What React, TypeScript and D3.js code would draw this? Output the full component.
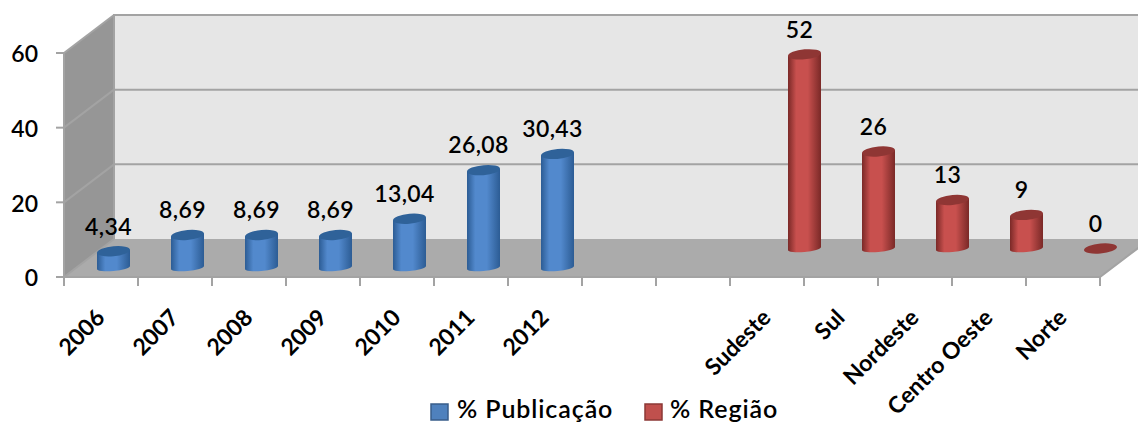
import React from 'react';
import * as d3 from 'd3';

const categories = ['2006', '2007', '2008', '2009', '2010', '2011', '2012', ' ', '  ', 'Sudeste', 'Sul', 'Nordeste', 'Centro Oeste', 'Norte'];
const publicacao = [4.34, 8.69, 8.69, 8.69, 13.04, 26.08, 30.43, null, null, null, null, null, null, null];
const regiao = [null, null, null, null, null, null, null, null, null, 52, 26, 13, 9, 0];
const publicacaoLabels = ['4,34', '8,69', '8,69', '8,69', '13,04', '26,08', '30,43'];
const yTicks = [0, 20, 40, 60];
const seriesNames = ['% Publicação', '% Região'];

const FONT = 'Lato, sans-serif';

const App = () => {
  const svgRef = React.useRef<SVGSVGElement>(null);

  React.useEffect(() => {
    const svg = d3.select(svgRef.current);
    svg.selectAll('*').remove();

    const width = 1138;
    const depthX = 50;
    const depthY = 38;

    const x = d3.scaleBand().domain(categories).range([64, 1100]);
    const y = d3.scaleLinear().domain([0, 60]).range([277, 53]);
    const right = 1100;
    const bottom = y(0);
    const top = y(60);

    // gradients for the cylinders
    const defs = svg.append('defs');
    const addGrad = (id, edge, mid) => {
      const g = defs.append('linearGradient').attr('id', id);
      g.append('stop').attr('offset', '0%').attr('stop-color', edge);
      g.append('stop').attr('offset', '25%').attr('stop-color', mid);
      g.append('stop').attr('offset', '60%').attr('stop-color', mid);
      g.append('stop').attr('offset', '100%').attr('stop-color', edge);
    };
    addGrad('blueCyl', '#2c5c94', '#5289cd');
    addGrad('redCyl', '#7a2927', '#c8504e');

    const poly = (pts, fill) => svg.append('polygon').attr('points', pts.map(p => p.join(',')).join(' ')).attr('fill', fill);

    // walls and floor
    poly([[64 + depthX, top - depthY], [width + 20, top - depthY], [width + 20, bottom - depthY], [64 + depthX, bottom - depthY]], '#e6e6e6');
    poly([[64, top], [64 + depthX, top - depthY], [64 + depthX, bottom - depthY], [64, bottom]], '#969696');
    poly([[64, bottom], [64 + depthX, bottom - depthY], [right + depthX, bottom - depthY], [right, bottom]], '#ababab');

    const gridColor = '#a3a3a3';
    yTicks.forEach(t => {
      const g = svg.append('g').attr('fill', 'none').attr('stroke', gridColor).attr('stroke-width', 2);
      if (t > 0) {
        g.append('line').attr('x1', 64 + depthX).attr('x2', width).attr('y1', y(t) - depthY).attr('y2', y(t) - depthY);
      }
      g.append('line').attr('x1', 64).attr('x2', 64 + depthX).attr('y1', y(t)).attr('y2', y(t) - depthY);
      g.append('line').attr('x1', 56).attr('x2', 64).attr('y1', y(t)).attr('y2', y(t));
      svg.append('text')
        .attr('x', 38).attr('y', y(t) + 1).attr('dy', '0.36em').attr('text-anchor', 'end')
        .style('font-family', FONT).style('font-size', '23px').style('font-weight', 600).attr('fill', '#000')
        .text(t);
    });

    // box edges
    const edges = d3.path();
    edges.moveTo(64, top); edges.lineTo(64, bottom); edges.lineTo(right, bottom); edges.lineTo(right + depthX, bottom - depthY);
    edges.moveTo(64 + depthX, bottom - depthY); edges.lineTo(64 + depthX, top - depthY); edges.lineTo(width, top - depthY);
    svg.append('path').attr('d', edges.toString()).attr('fill', 'none').attr('stroke', gridColor).attr('stroke-width', 2);

    // category ticks
    [...categories.map(c => x(c)), right].forEach(tx => {
      svg.append('line').attr('x1', tx).attr('x2', tx).attr('y1', bottom).attr('y2', bottom + 9).attr('stroke', gridColor).attr('stroke-width', 2);
    });

    const rx = 16.5;
    const ryTop = 5;
    const ryBase = 3.5;
    const tilt = -5;

    const drawCyl = (values, depth, grad, topFill, labelFor) => {
      values.forEach((v, i) => {
        if (v === null) return;
        const cx = x(categories[i]) + x.bandwidth() / 2 + depthX * depth;
        const base = bottom - depthY * depth;
        const h = base - (y(v) - depthY * depth);
        const g = svg.append('g').attr('transform', `translate(${cx},${base})`);
        const inner = g.append('g').attr('transform', `skewY(${tilt})`);
        if (h > 0) {
          inner.append('path')
            .attr('d', `M${-rx},0 L${-rx},${-h} L${rx},${-h} L${rx},0 A${rx},${ryBase} 0 0 1 ${-rx},0 Z`)
            .attr('fill', `url(#${grad})`);
        }
        inner.append('ellipse').attr('cx', 0).attr('cy', -h).attr('rx', rx).attr('ry', ryTop).attr('fill', topFill);
        svg.append('text')
          .attr('x', cx - 5).attr('y', base - h - 25).attr('dy', '0.36em').attr('text-anchor', 'middle')
          .style('font-family', FONT).style('font-size', '23px').style('font-weight', 600).style('letter-spacing', '0.4px').attr('fill', '#000')
          .text(labelFor(v, i));
      });
    };

    drawCyl(publicacao, 0.25, 'blueCyl', '#2f6299', (v, i) => publicacaoLabels[i]);
    drawCyl(regiao, 0.75, 'redCyl', '#8f3634', v => String(v));

    // rotated category labels
    categories.forEach(c => {
      if (!c.trim()) return;
      const lx = x(c) + x.bandwidth() / 2 - 3;
      svg.append('text')
        .attr('transform', `translate(${lx},${bottom + 34}) rotate(-45)`)
        .attr('text-anchor', 'end').attr('dy', '0.5em')
        .style('font-family', FONT).style('font-size', '23px').style('font-weight', 700).attr('fill', '#000')
        .text(c);
    });

    // legend
    const legend = [
      { name: seriesNames[0], sx: 431, tx: 457, fill: '#4f81bd', stroke: '#385d8a' },
      { name: seriesNames[1], sx: 645, tx: 670, fill: '#c0504d', stroke: '#8c3836' },
    ];
    legend.forEach(l => {
      svg.append('rect').attr('x', l.sx).attr('y', 404).attr('width', 17).attr('height', 16)
        .attr('fill', l.fill).attr('stroke', l.stroke).attr('stroke-width', 1.5);
      svg.append('text').attr('x', l.tx).attr('y', 418)
        .style('font-family', FONT).style('font-size', '25px').style('font-weight', 600).style('letter-spacing', '0.9px').attr('fill', '#000')
        .text(l.name);
    });
  }, []);

  return (
    <svg ref={svgRef} width={1138} height={423} style={{ position: 'absolute', left: 0, top: 0, background: '#fff' }} />
  );
};

export default App;
